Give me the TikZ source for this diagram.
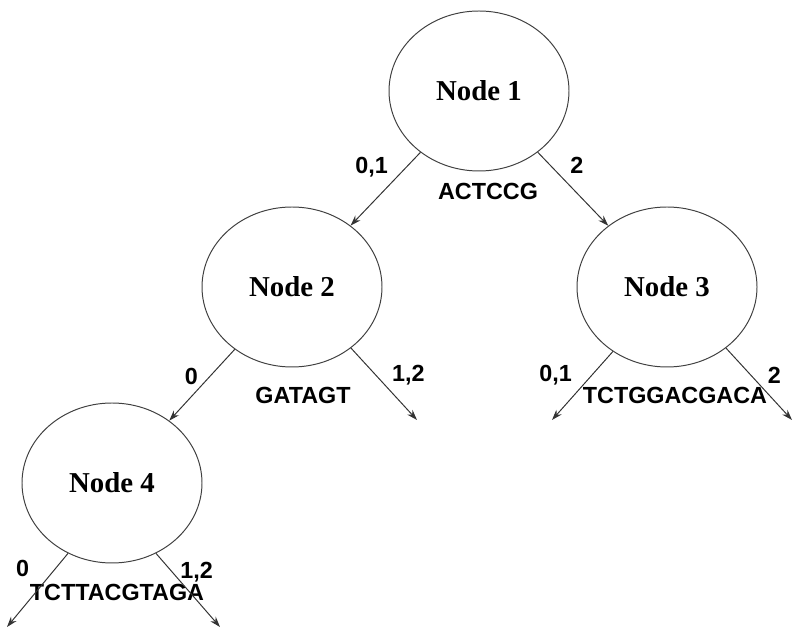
\documentclass[tikz,border=0pt]{standalone}
\usepackage{fontspec}
\setmainfont{Liberation Serif}
\setsansfont{Liberation Sans}
\usetikzlibrary{arrows.meta,positioning,shapes.geometric}

\begin{document}
\begin{tikzpicture}[->,>={Stealth[length=7.5pt,width=5pt]},line width=0.7pt,
                    node distance=4.9cm,
                    every edge/.append style={draw=black!80},
                    tree/.style={ellipse,draw=black!75,minimum width=4.5cm,minimum height=4cm,
                                 font=\fontsize{20.5}{24}\selectfont\bfseries},
                    lbl/.style={inner sep=1pt,font=\sffamily\bfseries\fontsize{16.6}{19}\selectfont},
                    seq/.style={lbl}]
  \useasboundingbox (0,0) rectangle (20,16.05);

  \node[tree] (1) at (11.975,13.775)           {Node 1};
  \node[tree] (2) [below of=1,xshift=-4.675cm] {Node 2};
  \node[tree] (3) [below of=1,xshift=4.7cm]    {Node 3};
  \node[tree] (4) [below of=2,xshift=-4.5cm]   {Node 4};

  \node[seq] (s1) [below=0.25cm of 1,xshift=0.225cm] {ACTCCG};
  \node[seq] (s2) [below=0.45cm of 2,xshift=0.275cm] {GATAGT};
  \node[seq] (s3) [below=0.45cm of 3,xshift=0.2cm]   {TCTGGACGACA};
  \node[seq] (s4) [below=0.47cm of 4,xshift=0.125cm] {TCTTACGTAGA};

  \coordinate (e2) at (10.425,5.55);
  \coordinate (e3a) at (13.8,5.55);
  \coordinate (e3b) at (19.8,5.55);
  \coordinate (e4a) at (0.175,0.375);
  \coordinate (e4b) at (5.5,0.375);

  \path (1)     edge node[lbl,pos=0.2,left=0.42cm]    (l12)  {0,1} (2)
        (1)     edge node[lbl,pos=0.18,right=0.45cm]  (l13)  {2}   (3)
        (2)     edge node[lbl,pos=0.375,left=0.26cm]  (l24)  {0}   (4)
        (2.314) edge node[lbl,pos=0.377,right=0.36cm] (l2)   {1,2} (e2)
        (3.230) edge node[lbl,pos=0.347,left=0.45cm]  (l3a)  {0,1} (e3a)
        (3.314) edge node[lbl,pos=0.377,right=0.38cm] (l3b)  {2}   (e3b)
        (4.238) edge node[lbl,pos=0.2,left=0.62cm]    (l4a)  {0}   (e4a)
        (4.302) edge node[lbl,pos=0.258,right=0.15cm] (l4b)  {1,2} (e4b);
\end{tikzpicture}
\end{document}
